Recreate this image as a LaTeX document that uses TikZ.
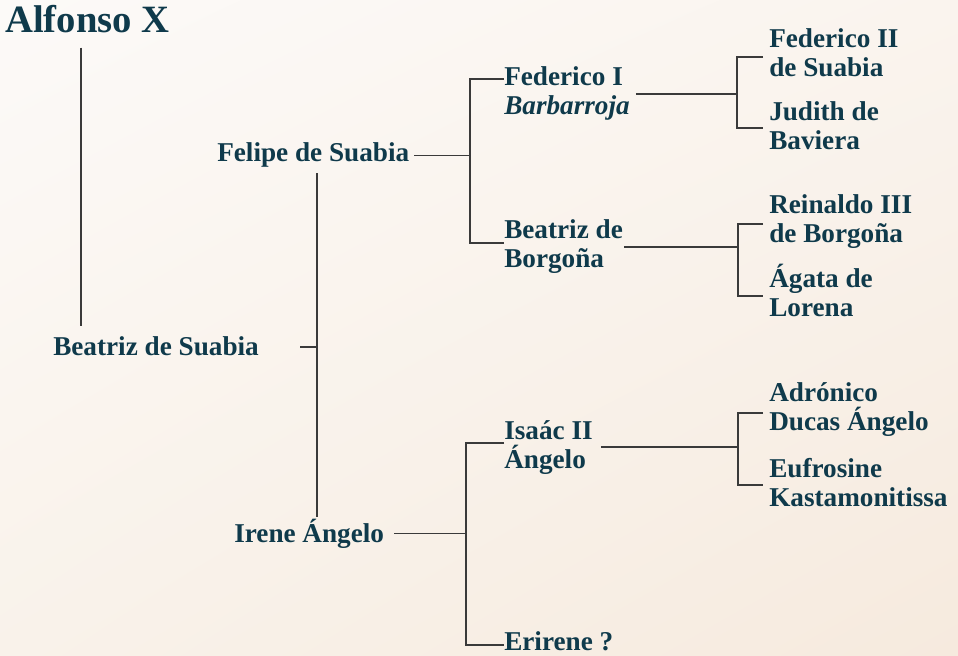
\documentclass[tikz,border=0pt]{standalone}
\usepackage{fontspec}
\setmainfont{Liberation Serif}
\usetikzlibrary{shadings}
\definecolor{tinta}{HTML}{0F3A4B}
\definecolor{linea}{HTML}{3A3A3A}
\definecolor{fondoA}{HTML}{FCFAF8}
\definecolor{fondoB}{HTML}{FAF4EE}
\definecolor{fondoC}{HTML}{F9F2EA}
\definecolor{fondoD}{HTML}{F6EADE}
\begin{document}
\begin{tikzpicture}[x=0.75pt,y=-0.75pt,
  persona/.style={anchor=base west,inner sep=0pt,align=left,text=tinta,
    font=\fontsize{20.4}{21.75}\selectfont\bfseries},
  rama/.style={draw=linea,line width=1.25pt}]
  % Fondo
  \shade[upper left=fondoA,upper right=fondoB,lower left=fondoC,lower right=fondoD] (0,0) rectangle (958,656);
  \useasboundingbox (0,0) rectangle (958,656);

  % Alfonso X y su madre
  \node[persona,font=\fontsize{29}{31}\selectfont\bfseries] (Alfonso) at (5,33) {Alfonso X};
  \node[persona] (BeatrizSuabia) at (53,356) {Beatriz de Suabia};

  % Abuelos
  \node[persona] (Felipe) at (217,162) {Felipe de Suabia};
  \node[persona] (Irene) at (234,542) {Irene Ángelo};

  % Bisabuelos (base = segunda linea)
  \node[persona] (FedericoI) at (504,115) {Federico I\\\textit{Barbarroja}};
  \node[persona] (BeatrizBorgona) at (504,268) {Beatriz de\\Borgoña};
  \node[persona] (Isaac) at (504,468) {Isaác II\\Ángelo};
  \node[persona] (Erirene) at (504,650) {Erirene ?};

  % Tatarabuelos
  \node[persona] (FedericoII) at (769,77) {Federico II\\de Suabia};
  \node[persona] (Judith) at (769,150) {Judith de\\Baviera};
  \node[persona] (Reinaldo) at (769,243) {Reinaldo III\\de Borgoña};
  \node[persona] (Agata) at (769,317) {Ágata de\\Lorena};
  \node[persona] (Adronico) at (769,431) {Adrónico\\Ducas Ángelo};
  \node[persona] (Eufrosine) at (769,506) {Eufrosine\\Kastamonitissa};

  % Ejes de las llaves
  \coordinate (EjeA) at (81,0);
  \coordinate (EjeB) at (317,0);
  \coordinate (EjeC1) at (470,79);
  \coordinate (EjeC2) at (470,243);
  \coordinate (EjeD1) at (466,443);
  \coordinate (EjeD2) at (466,645);
  \coordinate (EjeE1) at (737,57);
  \coordinate (EjeE2) at (737,128);
  \coordinate (EjeF1) at (738,224);
  \coordinate (EjeF2) at (738,296);
  \coordinate (EjeG1) at (738,413);
  \coordinate (EjeG2) at (738,485);

  \draw[rama,shorten <=10.5pt,shorten >=8pt] (Alfonso.south -| EjeA) -- (BeatrizSuabia.north -| EjeA);
  \draw[rama,shorten <=30.75pt] (BeatrizSuabia.east) -- (BeatrizSuabia.east -| EjeB);
  \draw[rama,shorten <=3.75pt,shorten >=0.75pt] (Felipe.south -| EjeB) -- (Irene.north -| EjeB);

  \draw[rama,shorten <=3.75pt] (Felipe.east) -- (Felipe.east -| EjeC1);
  \draw[rama] (FedericoI.west |- EjeC1) -- (EjeC1) -- (EjeC2) -- (BeatrizBorgona.west |- EjeC2);

  \draw[rama,shorten <=7.5pt] (Irene.east) -- (Irene.east -| EjeD1);
  \draw[rama] (Isaac.west |- EjeD1) -- (EjeD1) -- (EjeD2) -- (Erirene.west |- EjeD2);

  \draw[rama,shorten <=4.5pt] (FedericoI.east) -- (FedericoI.east -| EjeE1);
  \draw[rama,shorten <=4.5pt,shorten >=4.5pt] (FedericoII.west |- EjeE1) -- (EjeE1) -- (EjeE2) -- (Judith.west |- EjeE2);

  \draw[rama,shorten <=0.75pt] (BeatrizBorgona.east) -- (BeatrizBorgona.east -| EjeF1);
  \draw[rama,shorten <=4.5pt,shorten >=4.5pt] (Reinaldo.west |- EjeF1) -- (EjeF1) -- (EjeF2) -- (Agata.west |- EjeF2);

  \draw[rama,shorten <=6pt] (Isaac.east) -- (Isaac.east -| EjeG1);
  \draw[rama,shorten <=4.5pt,shorten >=4.5pt] (Adronico.west |- EjeG1) -- (EjeG1) -- (EjeG2) -- (Eufrosine.west |- EjeG2);
\end{tikzpicture}
\end{document}
